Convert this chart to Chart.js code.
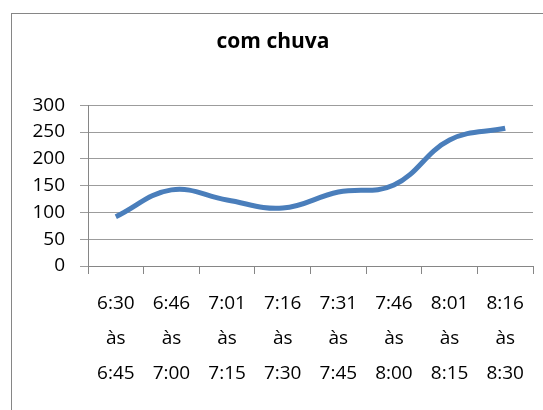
<!DOCTYPE html>
<html lang="pt">
<head>
<meta charset="UTF-8">
<title>com chuva</title>
<script src="https://cdn.jsdelivr.net/npm/chart.js"></script>
<style>
  html, body { margin: 0; padding: 0; background: #fff; overflow: hidden; }
  .frame {
    position: absolute;
    left: 11px;
    top: 13px;
    width: 600px;
    height: 500px;
    border: 1px solid #868686;
  }
  .wrap { position: absolute; left: 0; top: 0; width: 543px; height: 410px; }
</style>
</head>
<body>
<div class="frame"></div>
<div class="wrap"><canvas id="chuvaChart" width="543" height="410"></canvas></div>

<script>
// intervalos de tempo (rótulos do eixo x, em 3 linhas)
const intervalos = [
  ["6:30", "às", "6:45"],
  ["6:46", "às", "7:00"],
  ["7:01", "às", "7:15"],
  ["7:16", "às", "7:30"],
  ["7:31", "às", "7:45"],
  ["7:46", "às", "8:00"],
  ["8:01", "às", "8:15"],
  ["8:16", "às", "8:30"]
];
const valores = [92, 142, 123, 108, 138, 151, 235, 257];
const yTicks = [0, 50, 100, 150, 200, 250, 300];

const fonte = "'Open Sans', 'DejaVu Sans', sans-serif";

new Chart(document.getElementById("chuvaChart"), {
  type: "line",
  data: {
    labels: intervalos,
    datasets: [{
      label: "com chuva",
      data: valores,
      borderColor: "#4A7EBB",
      borderWidth: 5,
      pointRadius: 0,
      tension: 0.4,
      fill: false
    }]
  },
  options: {
    responsive: false,
    animation: false,
    layout: { padding: { left: 13, right: 10, top: 0, bottom: 0 } },
    plugins: {
      legend: { display: false },
      tooltip: { enabled: false },
      title: {
        display: true,
        text: "com chuva",
        color: "#000",
        font: { family: fonte, size: 21, weight: "bold", lineHeight: 1.2 },
        padding: { top: 29, bottom: 51 }
      }
    },
    scales: {
      x: {
        offset: true,
        grid: {
          offset: true,
          drawOnChartArea: false,
          drawTicks: true,
          tickLength: 8,
          color: "#868686"
        },
        border: { color: "#868686", width: 1 },
        ticks: {
          color: "#000",
          padding: 12,
          maxRotation: 0,
          autoSkip: false,
          font: { family: fonte, size: 19, lineHeight: 1.84 }
        },
        afterFit: function (scale) { scale.height = 144; }
      },
      y: {
        min: 0,
        max: 300,
        afterBuildTicks: function (scale) {
          scale.ticks = yTicks.map(v => ({ value: v }));
        },
        grid: {
          color: "#9C9C9C",
          lineWidth: 1,
          tickLength: 8
        },
        border: { color: "#868686", width: 1 },
        ticks: {
          color: "#000",
          padding: 15,
          font: { family: fonte, size: 19 }
        },
        afterFit: function (scale) { scale.width = 75; }
      }
    }
  }
});
</script>
</body>
</html>
